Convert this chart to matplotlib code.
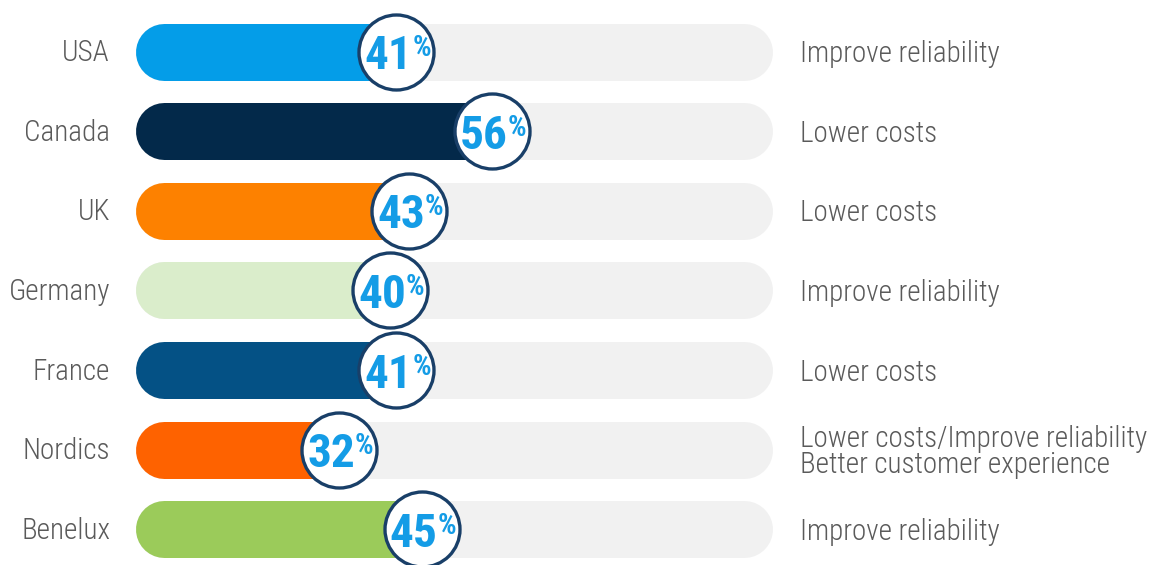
import matplotlib
matplotlib.use('Agg')
import matplotlib.pyplot as plt

# data
countries = ['USA', 'Canada', 'UK', 'Germany', 'France', 'Nordics', 'Benelux']
shares = [41, 56, 43, 40, 41, 32, 45]
drivers = ['Improve reliability', 'Lower costs', 'Lower costs', 'Improve reliability',
           'Lower costs', 'Lower costs/Improve reliability\nBetter customer experience',
           'Improve reliability']
bar_colors = ['#049de8', '#03294a', '#fd8100', '#daedcb', '#045185', '#fe6200', '#9bcb5a']

W, H = 1158, 565
px_per_unit = 637 / 100          # track (0..100 %) is 637 px wide
row_px = 79.6                    # distance between rows in px
x0_px, y0_px = 135, 51.5         # start of track, centre of the first row

FONT = 'Roboto Condensed'
TRACK = '#f1f1f1'
RING = '#193f68'
NUM = '#149ce6'
GREY = '#5a5a5a'

fig = plt.figure(figsize=(W / 100, H / 100), dpi=100)
ax = fig.add_axes([0, 0, 1, 1])
ax.set_xlim(-x0_px / px_per_unit, (W - x0_px) / px_per_unit)
ax.set_ylim((H - y0_px) / row_px, -y0_px / row_px)
ax.axis('off')

bar_px = 57
lw = bar_px * 72 / 100
cap = bar_px / 2 / px_per_unit   # round cap radius in data units

for i, (name, v, note, c) in enumerate(zip(countries, shares, drivers, bar_colors)):
    # grey track and coloured fill, both with rounded ends
    ax.plot([cap, 100 - cap], [i, i], lw=lw, color=TRACK, solid_capstyle='round', zorder=1)
    ax.plot([cap, v], [i, i], lw=lw, color=c, solid_capstyle='round', zorder=2)

    # white ring holding the value
    ax.scatter([v], [i], s=(75 * 0.72) ** 2, facecolor='white', edgecolor=RING,
               linewidth=2.4, zorder=3)
    ax.annotate(str(v), (v, i), xytext=(11.5, -12.8), textcoords='offset points',
                ha='right', va='baseline', fontsize=34, fontweight='bold',
                family=FONT, color=NUM, zorder=4)
    ax.annotate('%', (v, i), xytext=(11.6, -3.4), textcoords='offset points',
                ha='left', va='baseline', fontsize=21, fontweight='bold',
                family=FONT, color=NUM, zorder=4)

    # country on the left
    ax.annotate(name, (0, i), xytext=(-18, -7.0), textcoords='offset points',
                ha='right', va='baseline', fontsize=21, fontweight='light',
                family=FONT, color=GREY)

    # main driver on the right
    ax.annotate(note, (100, i), xytext=(20.5, -2.0), textcoords='offset points',
                ha='left', va='center', fontsize=21, fontweight='light',
                family=FONT, color=GREY, linespacing=0.9)

fig.savefig('out.png', dpi=100)
